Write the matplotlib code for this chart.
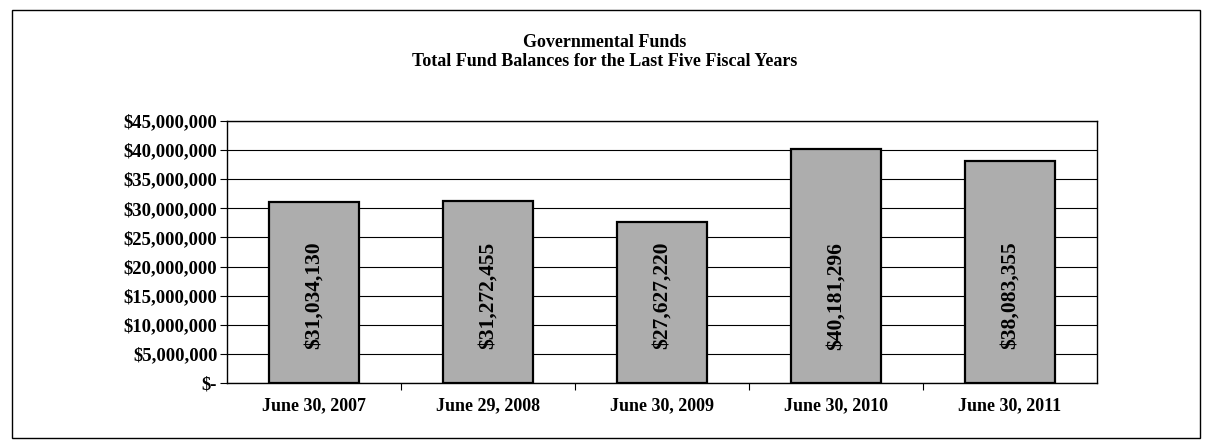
import matplotlib
matplotlib.use("Agg")
import matplotlib.pyplot as plt
from matplotlib.patches import Rectangle
from matplotlib.ticker import FuncFormatter

# data
years = ["June 30, 2007", "June 29, 2008", "June 30, 2009", "June 30, 2010", "June 30, 2011"]
balances = [31034130, 31272455, 27627220, 40181296, 38083355]
y_ticks = [0, 5000000, 10000000, 15000000, 20000000, 25000000, 30000000, 35000000, 40000000, 45000000]


def money(v, pos=None):
    # accounting style: zero shows as "$-"
    if v == 0:
        return "$-"
    return "${:,.0f}".format(v)


def main():
    plt.rcParams['font.family'] = ['Liberation Serif', 'DejaVu Serif']
    plt.rcParams['font.weight'] = 'bold'

    fig = plt.figure(figsize=(12.09, 4.4), dpi=100)
    ax = fig.add_axes([0.1878, 0.1295, 0.7196, 0.5955])

    x = list(range(len(years)))
    ax.bar(x, balances, width=0.52, color="#adadad", edgecolor="black",
           linewidth=1.6, zorder=3)

    # value labels, rotated, all at the same height
    for i, v in enumerate(balances):
        ax.text(i, 15000000, money(v), rotation=90, ha="center", va="center",
                fontsize=15.5, fontweight="bold", zorder=4)

    ax.set_xlim(-0.5, len(years) - 0.5)
    ax.set_ylim(0, 45000000)
    ax.set_yticks(y_ticks)
    ax.yaxis.set_major_formatter(FuncFormatter(money))
    ax.set_xticks(x)
    ax.set_xticklabels(years)
    ax.set_xticks([i + 0.5 for i in range(len(years) - 1)], minor=True)

    ax.tick_params(axis="x", which="major", length=0, pad=10, labelsize=13)
    ax.tick_params(axis="x", which="minor", length=5, width=0.8, direction="out")
    ax.tick_params(axis="y", length=5, width=0.8, direction="out", pad=2, labelsize=13.5)
    for lab in ax.get_xticklabels() + ax.get_yticklabels():
        lab.set_fontweight("bold")

    ax.grid(True, axis="y", color="black", linewidth=0.8, zorder=0)
    for s in ax.spines.values():
        s.set_linewidth(1.0)
        s.set_color("black")

    fig.text(0.5, 0.903, "Governmental Funds", ha="center", va="center",
             fontsize=13, fontweight="bold")
    fig.text(0.5, 0.860, "Total Fund Balances for the Last Five Fiscal Years",
             ha="center", va="center", fontsize=13, fontweight="bold")

    # outer frame round the whole chart
    fig.patches.append(Rectangle((0.0099, 0.0045), 0.9827, 0.9725, fill=False,
                                 edgecolor="black", linewidth=1.0,
                                 transform=fig.transFigure, figure=fig))

    fig.savefig("out.png", dpi=100)


if __name__ == "__main__":
    main()
